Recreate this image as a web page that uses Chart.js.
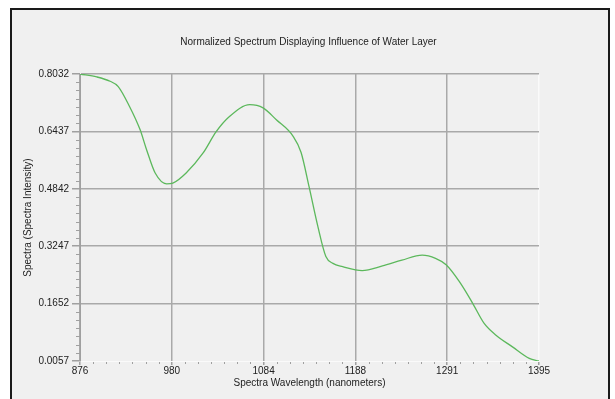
<!DOCTYPE html>
<html>
<head>
<meta charset="utf-8">
<script src="https://cdn.jsdelivr.net/npm/chart.js@4"></script>
<style>
  body { margin: 0; background: #ffffff; }
  #marco {
    position: absolute; left: 10px; top: 8px; width: 596px; height: 420px;
    border: 2px solid #1a1a1a; background: #f0f0f0;
  }
  #caja { position: absolute; left: 0; top: 0; width: 615px; height: 399px; }
</style>
</head>
<body>
<div id="marco"></div>
<div id="caja"><canvas id="grafica" width="615" height="399"></canvas></div>
<script>

// DATOS

const longitudes = [876, 895, 910, 919, 932, 944, 951, 961, 974, 981, 996, 1015, 1030, 1045, 1068, 1083, 1098, 1117, 1126, 1135, 1145, 1154, 1162, 1173, 1195, 1218, 1240, 1263, 1278, 1290, 1305, 1320, 1333, 1346, 1365, 1384, 1395];

const intensidad = [0.8032, 0.795, 0.783, 0.769, 0.713, 0.648, 0.595, 0.528, 0.498, 0.500, 0.528, 0.583, 0.643, 0.685, 0.718, 0.709, 0.676, 0.630, 0.585, 0.490, 0.379, 0.296, 0.277, 0.268, 0.257, 0.270, 0.286, 0.300, 0.291, 0.273, 0.226, 0.166, 0.110, 0.078, 0.045, 0.013, 0.0057];

const etiquetasX = ['876', '980', '1084', '1188', '1291', '1395'];
const etiquetasY = ['0.0057', '0.1652', '0.3247', '0.4842', '0.6437', '0.8032'];

const xMin = 876, xMax = 1395;
const yMin = 0.0057, yMax = 0.8032;


// MARCAS MENORES

const marcasMenores = {
    id: 'marcasMenores',
    afterLayout(chart) {
        // titulo centrado en la pagina, no en el area
        if (chart.titleBlock) {
            chart.titleBlock.left += 28;
            chart.titleBlock.right += 28;
        }
    },
    afterDraw(chart) {
        const c = chart.ctx;
        const sx = chart.scales.x;
        const sy = chart.scales.y;
        const area = chart.chartArea;
        c.save();
        c.strokeStyle = '#a0a0a0';
        c.lineWidth = 1;
        const pasoY = (yMax - yMin) / 5 / 7;
        for (let i = 1; i < 35; i++) {
            if (i % 7 === 0) continue;
            const py = Math.round(sy.getPixelForValue(yMin + i * pasoY)) + 0.5;
            c.beginPath();
            c.moveTo(area.left - 4, py);
            c.lineTo(area.left, py);
            c.stroke();
        }
        const pasoX = (xMax - xMin) / 5 / 7;
        for (let i = 1; i < 35; i++) {
            if (i % 7 === 0) continue;
            const px = Math.round(sx.getPixelForValue(xMin + i * pasoX)) + 0.5;
            c.beginPath();
            c.moveTo(px, area.bottom + 1);
            c.lineTo(px, area.bottom + 3);
            c.stroke();
        }
        c.restore();
    }
};


// GRAFICA

Chart.defaults.font.family = "'Liberation Sans', Arial, sans-serif";
Chart.defaults.color = '#222222';

const ctx = document.getElementById('grafica');

new Chart(ctx, {

    type: 'line',

    data: {
        datasets: [{
            label: 'Spectra',
            data: longitudes.map((x, i) => ({ x: x, y: intensidad[i] })),
            borderColor: '#5cb85c',
            borderWidth: 1.3,
            pointRadius: 0,
            tension: 0.4,
            cubicInterpolationMode: 'monotone',
            fill: false
        }]
    },

    options: {
        responsive: false,
        animation: false,
        layout: {
            padding: { left: 22, right: 76, top: 36, bottom: 10 }
        },
        plugins: {
            legend: { display: false },
            tooltip: { enabled: false },
            title: {
                display: true,
                text: 'Normalized Spectrum Displaying Influence of Water Layer',
                font: { size: 10, weight: 'normal' },
                color: '#222222',
                padding: { top: 0, bottom: 26 }
            }
        },
        scales: {
            x: {
                type: 'linear',
                min: xMin,
                max: xMax,
                afterBuildTicks: (s) => {
                    s.ticks = etiquetasX.map((t, i) => ({ value: xMin + i * (xMax - xMin) / 5 }));
                },
                afterFit: (s) => { s.height = 28; },
                ticks: {
                    autoSkip: false,
                    maxRotation: 0,
                    padding: 0,
                    font: { size: 10 },
                    callback: (v, i) => etiquetasX[i]
                },
                grid: {
                    color: (c) => c.index === 5 ? '#fafafa' : '#a9a9a9',
                    lineWidth: 1.5,
                    tickLength: 4,
                    tickColor: '#a0a0a0'
                },
                border: { color: '#fafafa', width: 1 },
                title: {
                    display: true,
                    text: 'Spectra Wavelength (nanometers)',
                    font: { size: 10 },
                    padding: { top: -2, bottom: 0 }
                }
            },
            y: {
                type: 'linear',
                min: yMin,
                max: yMax,
                afterBuildTicks: (s) => {
                    s.ticks = etiquetasY.map((t, i) => ({ value: yMin + i * (yMax - yMin) / 5 }));
                },
                afterFit: (s) => { s.width = 58; },
                ticks: {
                    autoSkip: false,
                    padding: 3,
                    font: { size: 10 },
                    callback: (v, i) => etiquetasY[i]
                },
                grid: {
                    color: (c) => c.index === 0 ? 'rgba(0,0,0,0)' : '#a9a9a9',
                    lineWidth: 1.5,
                    tickLength: 8,
                    tickColor: '#a0a0a0'
                },
                border: { color: '#a0a0a0', width: 1 },
                title: {
                    display: true,
                    text: 'Spectra (Spectra Intensity)',
                    font: { size: 10 },
                    padding: { top: 0, bottom: 0 }
                }
            }
        }
    },

    plugins: [marcasMenores]

});

</script>
</body>
</html>
